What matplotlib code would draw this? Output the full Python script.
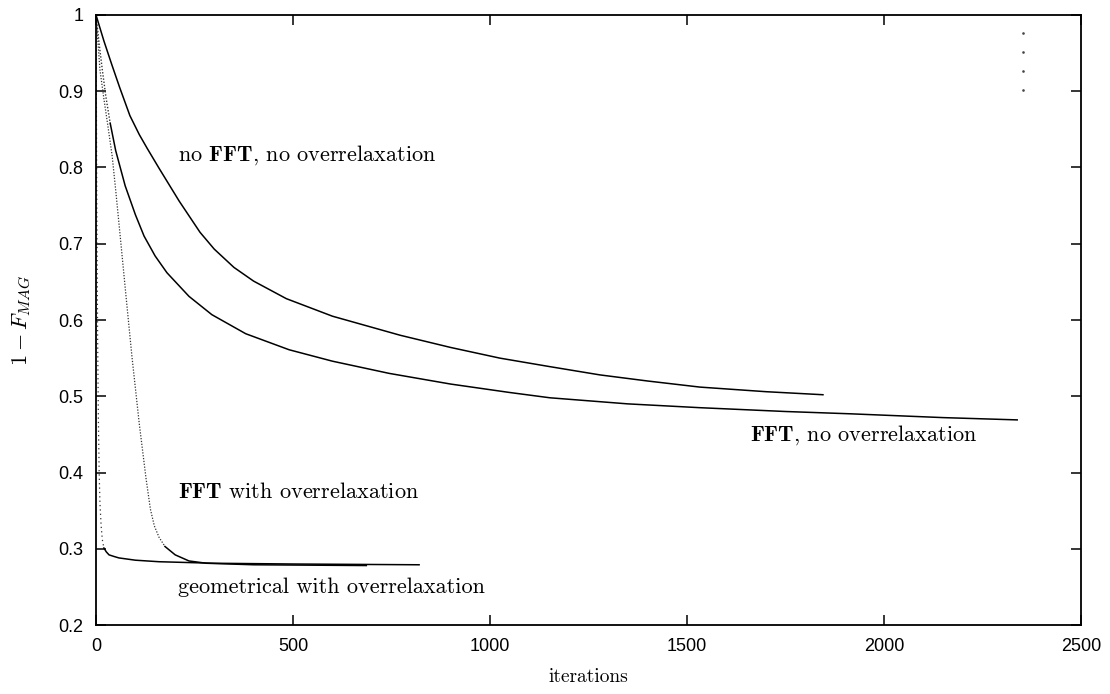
import numpy as np
from matplotlib import pyplot as plt
from matplotlib.ticker import FixedLocator, FixedFormatter

# no FFT, no overrelaxation
a_iter = [0, 20, 40, 60, 86, 110, 130, 160, 211, 264, 300, 350, 400, 483,
          600, 772, 900, 1025, 1150, 1279, 1400, 1533, 1700, 1845]
a_val = [1.0, 0.966, 0.935, 0.905, 0.868, 0.843, 0.825, 0.799, 0.756, 0.715,
         0.693, 0.669, 0.651, 0.628, 0.605, 0.580, 0.564, 0.550, 0.539, 0.528,
         0.520, 0.512, 0.506, 0.502]

# FFT, no overrelaxation
b_iter = [0, 8, 16, 25, 36, 50, 74, 100, 122, 150, 180, 236, 294, 380, 490,
          600, 744, 900, 1049, 1152, 1350, 1533, 1750, 1914, 2150, 2338]
b_val = [1.0, 0.962, 0.928, 0.893, 0.858, 0.822, 0.776, 0.738, 0.710, 0.684,
         0.662, 0.631, 0.607, 0.582, 0.561, 0.546, 0.530, 0.516, 0.505, 0.498,
         0.490, 0.485, 0.480, 0.477, 0.472, 0.469]

# FFT with overrelaxation
c_iter = [0, 10, 20, 30, 41, 50, 61, 76, 91, 110, 127, 138, 148, 160, 175,
          201, 236, 280, 400, 686]
c_val = [1.0, 0.928, 0.89, 0.855, 0.815, 0.77, 0.712, 0.632, 0.553, 0.463,
         0.392, 0.352, 0.330, 0.315, 0.303, 0.292, 0.284, 0.281, 0.279, 0.278]

# geometrical with overrelaxation
d_iter = [0, 2, 4, 6, 8, 10, 13, 16, 20, 26, 33, 45, 58, 100, 160, 300, 500, 820]
d_val = [1.0, 0.75, 0.58, 0.47, 0.40, 0.36, 0.33, 0.312, 0.301, 0.296, 0.292,
         0.290, 0.288, 0.285, 0.283, 0.281, 0.280, 0.279]

# gnuplot key samples (dots, no title)
key_x = [2353, 2353, 2353, 2353]
key_y = [0.976, 0.951, 0.926, 0.902]

x_ticks = [0, 500, 1000, 1500, 2000, 2500]
y_ticks = [0.2, 0.3, 0.4, 0.5, 0.6, 0.7, 0.8, 0.9, 1.0]
y_labels = ['0.2', '0.3', '0.4', '0.5', '0.6', '0.7', '0.8', '0.9', '1']

plt.rcParams['mathtext.fontset'] = 'cm'
plt.rcParams['font.family'] = ['Liberation Sans', 'DejaVu Sans']

fig = plt.figure(figsize=(11.1, 6.94), dpi=100)
ax = fig.add_axes([0.0865, 0.0994, 0.8874, 0.879])

lw = 1.1
dots = (0, (1, 1.3))
ax.plot(a_iter, a_val, color='black', lw=lw)
ax.plot(b_iter[:5], b_val[:5], color='#333333', lw=1.0, ls=dots)
ax.plot(b_iter[4:], b_val[4:], color='black', lw=lw)
ax.plot(c_iter[:15], c_val[:15], color='#333333', lw=0.9, ls=dots)
ax.plot(c_iter[14:], c_val[14:], color='black', lw=lw)
ax.plot(d_iter[:9], d_val[:9], color='#333333', lw=0.9, ls=(0, (1, 2.5)))
ax.plot(d_iter[8:], d_val[8:], color='black', lw=lw)
ax.plot(key_x, key_y, ls='none', marker='s', ms=0.8, color='#444444')

font = 16
txt = dict(fontsize=font, family='cmr10', va='center', ha='left')
ax.text(208, 0.816, r'no $\mathbf{FFT}$, no overrelaxation', **txt)
ax.text(1660, 0.449, r'$\mathbf{FFT}$, no overrelaxation', **txt)
ax.text(208, 0.374, r'$\mathbf{FFT}$ with overrelaxation', **txt)
ax.text(208, 0.250, 'geometrical with overrelaxation', **txt)

ax.set_xlim(0, 2500)
ax.set_ylim(0.2, 1.0)
ax.xaxis.set_major_locator(FixedLocator(x_ticks))
ax.yaxis.set_major_locator(FixedLocator(y_ticks))
ax.yaxis.set_major_formatter(FixedFormatter(y_labels))
ax.tick_params(direction='in', length=7, width=1.1, top=True, right=True,
               labelsize=13, pad=9)
for s in ax.spines.values():
    s.set_linewidth(1.3)

ax.set_xlabel('iterations', fontsize=14, family='cmr10', labelpad=10)
ax.set_ylabel(r'$1 - F_{MAG}$', fontsize=16, labelpad=18)

fig.savefig('out.png', dpi=100)
